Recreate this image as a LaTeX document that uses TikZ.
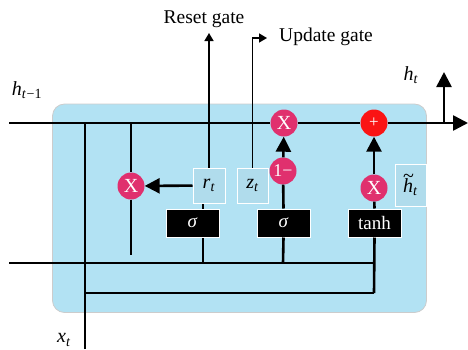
\documentclass[tikz,border=0pt]{standalone}
\usepackage{fontspec}
\setmainfont{Liberation Serif}[ItalicFont={Liberation Serif Italic},BoldFont={Liberation Serif Bold}]
\usetikzlibrary{arrows.meta}
\definecolor{cellblue}{RGB}{178,226,243}
\definecolor{boxblue}{RGB}{176,220,236}
\definecolor{mag}{RGB}{224,48,110}
\definecolor{addred}{RGB}{250,20,20}
\newcommand{\vsub}[2]{\textit{#1}\textsubscript{\textit{#2}}}
\tikzset{
  wire/.style={line width=2.6pt},
  thinwire/.style={line width=1.5pt},
  bigtip/.style={-{Triangle[width=15pt,length=15pt]}},
  smalltip/.style={-{Triangle[width=9pt,length=8pt]}},
  gatebox/.style={draw=white,line width=1pt,fill=black,text=white,minimum width=53pt,minimum height=28pt,inner sep=0pt,font=\fontsize{19}{21}\selectfont},
  valbox/.style={draw=white,line width=1pt,fill=boxblue,minimum width=32pt,minimum height=35pt,inner sep=0pt,font=\fontsize{20}{22}\selectfont},
  opcirc/.style={circle,fill=mag,text=white,minimum size=27pt,inner sep=0pt,font=\fontsize{20}{22}\selectfont},
  addcirc/.style={circle,fill=addred,text=white,minimum size=27pt,inner sep=0pt,font=\fontsize{17}{19}\selectfont},
  lbl/.style={inner sep=0pt,font=\fontsize{20}{22}\selectfont},
  gatelbl/.style={inner sep=0pt,font=\fontsize{19.5}{22}\selectfont},
}
\begin{document}
\begin{tikzpicture}[x=1pt,y=-1pt]
\useasboundingbox (0,0) rectangle (468,349);
% cell background
\draw[draw=black!20,line width=0.8pt,fill=cellblue,rounded corners=12pt] (52.5,104) rectangle (426.5,312.5);

% nodes
\node[gatebox] (sig1) at (192.5,223) {\textit{σ}};
\node[gatebox] (sig2) at (283.5,223) {\textit{σ}};
\node[gatebox] (tnh) at (374.5,223) {tanh};
\node[valbox] (rt) at (209,185.5) {\vsub{r}{t}};
\node[valbox,minimum width=31pt] (zt) at (252.5,185.5) {\vsub{z}{t}};
\node[valbox,minimum width=31pt,minimum height=42pt] (htl) at (410.5,185) {\textit{h}\llap{\raisebox{0.5em}{\textit{\char"7E}}\kern-0.02em}\textsubscript{\textit{t}}};
\node[opcirc] (mr) at (131,186) {X};
\node[opcirc] (m1) at (284,123) {X};
\node[opcirc,font=\fontsize{18}{20}\selectfont] (om) at (283,171) {1−};
\node[addcirc] (add) at (374,123) {+};
\node[opcirc] (mt) at (374,188) {X};

% coordinates
\coordinate (hin) at (9,123);
\coordinate (hout) at (468,123);
\coordinate (hj) at (444,123);
\coordinate (htop) at (444,72);
\coordinate (xb) at (85,349);
\coordinate (xtop) at (85,123);
\coordinate (xj) at (85,293);
\coordinate (rtop) at (131,123);
\coordinate (rbot) at (131,255);
\coordinate (xin) at (9,263);
\coordinate (j1) at (203,263);
\coordinate (j2) at (283,263);
\coordinate (j3) at (374,263);
\coordinate (j4) at (374,293);
\coordinate (rg) at (209,33);
\coordinate (ug) at (267,38);

% main line
\draw[wire] (hin) -- (m1);
\draw[wire] (m1) -- (add);
\draw[wire,bigtip] (add) -- (hout);
\draw[wire,bigtip] (hj) -- (htop);

% x_t and lower lines
\draw[wire] (xb) -- (xtop);
\draw[wire] (xin) -- (j3);
\draw[wire] (xj) -- (j4);
\draw[wire] (j4) -- (tnh.south);

% reset multiply
\draw[wire] (rtop) -- (mr);
\draw[wire] (mr) -- (rbot);
\draw[wire,bigtip] (rt) -- (mr);

% sigma 1
\draw[wire] (j1) -- (j1 |- sig1.south);
\draw[wire] (j1 |- sig1.north) -- (j1 |- rt.south);

% sigma 2
\draw[wire] (j2) -- (sig2.south);
\draw[wire] (sig2.north) -- (om);
\draw[wire,bigtip] (om) -- (m1);

% tanh
\draw[wire] (tnh.north) -- (mt);
\draw[wire,bigtip] (mt) -- (add);

% gate outputs
\draw[thinwire,smalltip] (rt.north) -- (rg);
\draw[thinwire,smalltip] (zt.north) |- (ug);

% labels
\node[gatelbl] (rgl) at (204,19) {Reset gate};
\node[gatelbl,anchor=west] (ugl) at (279,37) {Update gate};
\node[lbl] (hprev) at (27,90) {\vsub{h}{t}\textsubscript{−1}};
\node[lbl] (hnow) at (411,75) {\vsub{h}{t}};
\node[lbl] (xtl) at (64,340) {\vsub{x}{t}};
\end{tikzpicture}
\end{document}
